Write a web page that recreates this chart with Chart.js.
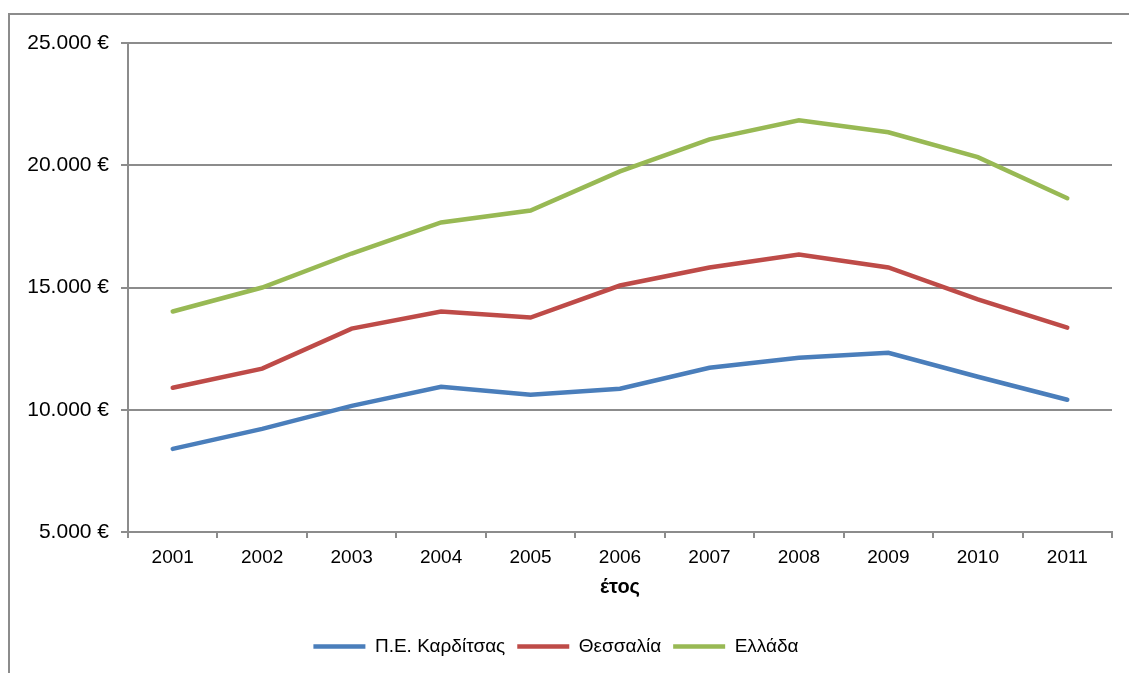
<!DOCTYPE html>
<html lang="el">
<head>
  <meta charset="UTF-8">
  <title>Κατά κεφαλήν ΑΕΠ</title>
  <style>
    body {
      margin: 0;
      padding: 0;
      background: #ffffff;
      overflow: hidden;
    }
    .wrap {
      position: relative;
      width: 1129px;
      height: 673px;
    }
    /* outer chart frame, right and bottom edges fall outside the picture */
    .frame {
      position: absolute;
      left: 8px;
      top: 13px;
      width: 1140px;
      height: 700px;
      border: 2px solid #8c8c8c;
      box-sizing: border-box;
    }
    canvas {
      position: absolute;
      left: 0;
      top: 0;
    }
  </style>
  <script src="https://cdn.jsdelivr.net/npm/chart.js"></script>
</head>
<body>
  <div class="wrap">
    <div class="frame"></div>
    <canvas id="chart" width="1129" height="673"></canvas>
  </div>
  <script>
    // data
    const years = ['2001', '2002', '2003', '2004', '2005', '2006', '2007', '2008', '2009', '2010', '2011'];
    const karditsa = [8400, 9220, 10160, 10940, 10610, 10860, 11720, 12130, 12330, 11350, 10410];
    const thessalia = [10900, 11680, 13320, 14020, 13770, 15080, 15820, 16350, 15820, 14510, 13360];
    const ellada = [14020, 15000, 16390, 17660, 18150, 19750, 21060, 21840, 21350, 20330, 18650];
    const seriesNames = ['Π.Ε. Καρδίτσας', 'Θεσσαλία', 'Ελλάδα'];
    const colors = ['#4a7ebb', '#be4b48', '#98b954'];

    const family = "'Liberation Sans', Arial, sans-serif";
    const font = { family: family, size: 19 };
    const gray = '#8c8c8c';

    function ds(i, data) {
      return {
        label: seriesNames[i],
        data: data,
        borderColor: colors[i],
        backgroundColor: colors[i],
        borderWidth: 4.5,
        pointRadius: 0,
        tension: 0,
        borderCapStyle: 'round'
      };
    }

    Chart.defaults.font.family = family;
    Chart.defaults.color = '#000000';

    new Chart(document.getElementById('chart'), {
      type: 'line',
      data: {
        labels: years,
        datasets: [ds(0, karditsa), ds(1, thessalia), ds(2, ellada)]
      },
      options: {
        responsive: false,
        animation: false,
        layout: { padding: { left: 0, top: 43, right: 17, bottom: 7 } },
        plugins: {
          tooltip: { enabled: false },
          legend: {
            position: 'bottom',
            labels: {
              font: font,
              usePointStyle: true,
              pointStyle: 'line',
              pointStyleWidth: 52,
              padding: 12
            }
          }
        },
        scales: {
          x: {
            offset: true,
            grid: {
              offset: true,
              drawOnChartArea: false,
              drawTicks: true,
              tickLength: 6,
              color: gray,
              lineWidth: 2
            },
            border: { color: gray, width: 2 },
            ticks: { font: font, padding: 8, maxRotation: 0 },
            title: {
              display: true,
              text: 'έτος',
              font: { family: family, size: 20, weight: 'bold' },
              padding: { top: 0, bottom: 26 }
            },
            afterFit: function (s) { s.height = 93; }
          },
          y: {
            min: 5000,
            max: 25000,
            ticks: {
              stepSize: 5000,
              font: { family: family, size: 21 },
              padding: 12,
              callback: v => v.toLocaleString('de-DE') + ' €'
            },
            grid: { color: gray, lineWidth: 2, tickLength: 7 },
            border: { color: gray, width: 2 },
            afterFit: function (s) { s.width = 128; }
          }
        }
      }
    });
  </script>
</body>
</html>
